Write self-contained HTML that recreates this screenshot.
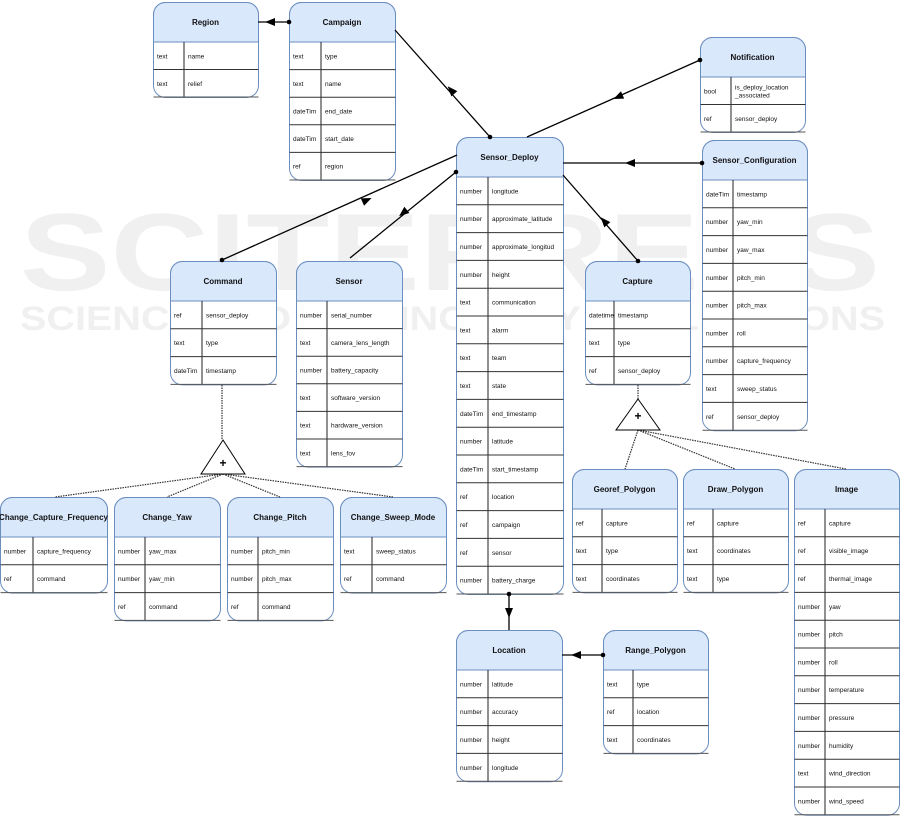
<!DOCTYPE html>
<html><head><meta charset="utf-8">
<style>
html,body{margin:0;padding:0;background:#fff;width:901px;height:816px;overflow:hidden}
svg text{font-family:"Liberation Sans",Arial,sans-serif}
</style></head>
<body>
<svg id="s" xmlns="http://www.w3.org/2000/svg" width="901" height="816" viewBox="0 0 901 816">
<g fill="#ececec" font-family="Liberation Sans,sans-serif" font-weight="bold">
<text x="20" y="290" font-size="110" fill="#f0f0f0" textLength="860" lengthAdjust="spacingAndGlyphs">SCITEPRESS</text>
<text x="20" y="330" font-size="34" fill="#f0f0f0" textLength="865" lengthAdjust="spacingAndGlyphs">SCIENCE AND TECHNOLOGY PUBLICATIONS</text>
</g>
</svg>
<script>
var S=document.getElementById('s'),NS='http://www.w3.org/2000/svg';
function el(t,a,txt){var e=document.createElementNS(NS,t);for(var k in a)e.setAttribute(k,a[k]);if(txt!==undefined)e.textContent=txt;S.appendChild(e);return e;}
function table(x,y,w,div,title,rows,rh){
  rh=rh||27.8;var hh=40,h=hh+rows.length*rh,r=12;
  el('rect',{x:x+0.5,y:y+0.5,width:w,height:h,rx:r,fill:'#fff',stroke:'#6c8ebf','stroke-width':1});
  el('path',{d:'M'+(x+0.5)+','+(y+hh)+' V'+(y+r+0.5)+' a'+r+','+r+' 0 0 1 '+r+','+(-r)+' H'+(x+w+0.5-r)+' a'+r+','+r+' 0 0 1 '+r+','+r+' V'+(y+hh)+' Z',fill:'#dae8fc',stroke:'#6c8ebf'});
  el('text',{x:x+w/2,y:y+hh/2+3,'font-size':8,'font-weight':'bold','text-anchor':'middle',fill:'#111'},title);
  el('line',{x1:x+div,y1:y+hh,x2:x+div,y2:y+h+0.5,stroke:'#222','stroke-width':1});
  for(var i=0;i<rows.length;i++){
    var yy=y+hh+(i+1)*rh;
    el('line',{x1:x+0.5,y1:yy,x2:x+w+0.5,y2:yy,stroke:i==rows.length-1?'#555':'#333','stroke-width':1});
    var cy=y+hh+i*rh+rh/2+2.5;
    el('text',{x:x+4,y:cy,'font-size':6.5,fill:'#111'},rows[i][0]);
    var n=rows[i][1];
    if(n.indexOf('|')>=0){var p=n.split('|');el('text',{x:x+div+4,y:cy-4,'font-size':6.5,fill:'#111'},p[0]);el('text',{x:x+div+4,y:cy+4,'font-size':6.5,fill:'#111'},p[1]);}
    else el('text',{x:x+div+4,y:cy,'font-size':6.5,fill:'#111'},n);
  }
}
table(153,2,105,31,'Region',[['text','name'],['text','relief']],27.5);
table(289,2,106,32,'Campaign',[['text','type'],['text','name'],['dateTim','end_date'],['dateTim','start_date'],['ref','region']],27.6);
table(700,37,105,31,'Notification',[['bool','is_deploy_location|_associated'],['ref','sensor_deploy']],27.5);
table(456,137,107,32,'Sensor_Deploy',[['number','longitude'],['number','approximate_latitude'],['number','approximate_longitud'],['number','height'],['text','communication'],['text','alarm'],['text','team'],['text','state'],['dateTim','end_timestamp'],['number','latitude'],['dateTim','start_timestamp'],['ref','location'],['ref','campaign'],['ref','sensor'],['number','battery_charge']],27.8);
table(702,140,105,31,'Sensor_Configuration',[['dateTim','timestamp'],['number','yaw_min'],['number','yaw_max'],['number','pitch_min'],['number','pitch_max'],['number','roll'],['number','capture_frequency'],['text','sweep_status'],['ref','sensor_deploy']],27.8);
table(170,261,106,32,'Command',[['ref','sensor_deploy'],['text','type'],['dateTim','timestamp']],27.8);
table(296,261,106,31,'Sensor',[['number','serial_number'],['text','camera_lens_length'],['number','battery_capacity'],['text','software_version'],['text','hardware_version'],['text','lens_fov']],27.6);
table(585,261,105,29,'Capture',[['datetime','timestamp'],['text','type'],['ref','sensor_deploy']],27.8);
table(0,497,107,33,'Change_Capture_Frequency',[['number','capture_frequency'],['ref','command']],27.8);
table(114,497,106,31,'Change_Yaw',[['number','yaw_max'],['number','yaw_min'],['ref','command']],27.8);
table(227,497,106,31,'Change_Pitch',[['number','pitch_min'],['number','pitch_max'],['ref','command']],27.8);
table(340,497,106,32,'Change_Sweep_Mode',[['text','sweep_status'],['ref','command']],27.8);
table(572,469,105,30,'Georef_Polygon',[['ref','capture'],['text','type'],['text','coordinates']],27.8);
table(683,469,105,30,'Draw_Polygon',[['ref','capture'],['text','coordinates'],['text','type']],27.8);
table(794,469,105,31,'Image',[['ref','capture'],['ref','visible_image'],['ref','thermal_image'],['number','yaw'],['number','pitch'],['number','roll'],['number','temperature'],['number','pressure'],['number','humidity'],['text','wind_direction'],['number','wind_speed']],27.8);
table(456,630,106,32,'Location',[['number','latitude'],['number','accuracy'],['number','height'],['number','longitude']],27.8);
table(603,630,105,30,'Range_Polygon',[['text','type'],['ref','location'],['text','coordinates']],27.8);

function conn(x1,y1,x2,y2,dot,ax,ay){
  el('line',{x1:x1,y1:y1,x2:x2,y2:y2,stroke:'#000','stroke-width':1.3});
  el('circle',{cx:dot[0],cy:dot[1],r:2.3,fill:'#000'});
  // arrow at (ax,ay) pointing away from dot
  var dx=x2-x1,dy=y2-y1;if(dot[0]==x2&&dot[1]==y2){dx=-dx;dy=-dy;}
  var L=Math.hypot(dx,dy),ux=dx/L,uy=dy/L,px=-uy,py=ux;
  var tx=ax+ux*5,ty=ay+uy*5,bx=ax-ux*5,by=ay-uy*5;
  el('polygon',{points:tx+','+ty+' '+(bx+px*4)+','+(by+py*4)+' '+(bx-px*4)+','+(by-py*4),fill:'#000'});
}
conn(289,22,258,22,[289,22],270,22);
conn(395,30,490,137,[490,137],451,90);
conn(700,60,527,137,[700,60],618,97);
conn(702,163,563,163,[702,163],630,163);
conn(222,260,457,155,[222,260],367,200);
conn(456,172,350,258,[456,172],403,213);
conn(638,261,563,175,[638,261],604,221);
conn(509,594,509,630,[509,594],509,613);
conn(603,655,562,655,[603,655],576,655);

function dot(x1,y1,x2,y2){el('line',{x1:x1,y1:y1,x2:x2,y2:y2,stroke:'#333','stroke-width':1.2,'stroke-dasharray':'1.5,1'});}
dot(222,385,222,440);
[[55,497],[167,497],[280,497],[393,497]].forEach(function(p){dot(223,474,p[0],p[1]);});
el('polygon',{points:'223,440 245,474 201,474',fill:'#fff',stroke:'#000','stroke-width':1});
el('text',{x:223,y:467,'font-size':12,'font-weight':'bold','text-anchor':'middle'},'+');
dot(638,385,638,399);
[[625,469],[735,469],[846,469]].forEach(function(p){dot(638,430,p[0],p[1]);});
el('polygon',{points:'638,399 660,430 616,430',fill:'#fff',stroke:'#000','stroke-width':1});
el('text',{x:638,y:420,'font-size':12,'font-weight':'bold','text-anchor':'middle'},'+');
</script>
</body></html>
